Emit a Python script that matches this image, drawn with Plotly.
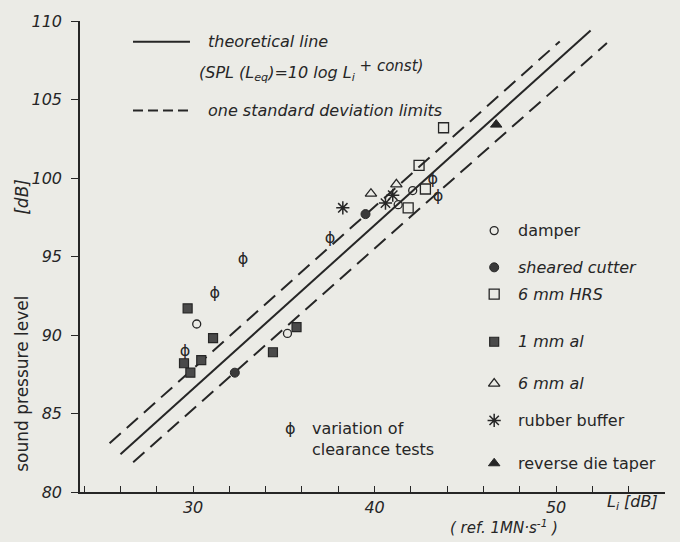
import plotly.graph_objects as go

# ---------------- data ----------------
theory_x = [26.0, 51.9]
theory_y = [82.4, 109.4]
upper_x = [25.4, 50.2]
upper_y = [83.1, 108.7]
lower_x = [26.7, 52.8]
lower_y = [81.9, 108.6]

damper_x = [30.2, 35.2, 42.1, 41.3]
damper_y = [90.7, 90.1, 99.2, 98.3]
sheared_x = [32.3, 39.5]
sheared_y = [87.6, 97.7]
hrs6_x = [42.45, 42.8, 41.85, 43.8]
hrs6_y = [100.8, 99.3, 98.1, 103.2]
al1_x = [29.7, 31.1, 29.5, 30.45, 29.85, 34.4, 35.7]
al1_y = [91.7, 89.8, 88.2, 88.4, 87.6, 88.9, 90.5]
al6_x = [41.2, 39.8]
al6_y = [99.6, 99.0]
rubber_x = [41.0, 40.6, 38.25]
rubber_y = [98.9, 98.4, 98.1]
taper_x = [46.7]
taper_y = [103.4]
clear_x = [31.2, 29.55, 43.2, 43.5, 37.55, 32.75]
clear_y = [92.6, 88.9, 99.9, 98.8, 96.1, 94.8]

x_ticks = [24, 26, 28, 30, 32, 34, 36, 38, 40, 42, 44, 46, 48, 50, 52, 54, 56]
x_labels = {30: "30", 40: "40", 50: "50"}
y_ticks = [80, 85, 90, 95, 100, 105, 110]

legend_labels = ["damper", "<i>sheared cutter</i>", "<i>6 mm HRS</i>", "<i>1 mm al</i>",
                 "<i>6 mm al</i>", "rubber buffer", "reverse die taper"]

# ---------------- styling ----------------
INK = "#262626"
BG = "#ebebe6"
FONT = "DejaVu Sans"

fig = go.Figure()

# lines
fig.add_trace(go.Scatter(x=theory_x, y=theory_y, mode="lines",
                         line=dict(color=INK, width=2), showlegend=False))
for xs, ys in [(upper_x, upper_y), (lower_x, lower_y)]:
    fig.add_trace(go.Scatter(x=xs, y=ys, mode="lines",
                             line=dict(color=INK, width=2, dash="15px,8px"), showlegend=False))

series = [
    (damper_x, damper_y, dict(symbol="circle-open", size=8, color=INK, line=dict(width=1.3, color=INK))),
    (sheared_x, sheared_y, dict(symbol="circle", size=9, color="#3a3a3a", line=dict(width=1, color=INK))),
    (hrs6_x, hrs6_y, dict(symbol="square-open", size=10, color=INK, line=dict(width=1.3, color=INK))),
    (al1_x, al1_y, dict(symbol="square", size=9, color="#4a4a4a", line=dict(width=1.2, color=INK))),
    (al6_x, al6_y, dict(symbol="triangle-up-open", size=10, color=INK, line=dict(width=1.3, color=INK))),
    (rubber_x, rubber_y, dict(symbol="asterisk-open", size=11, color=INK, line=dict(width=1.5, color=INK))),
    (taper_x, taper_y, dict(symbol="triangle-up", size=10, color=INK, line=dict(width=1, color=INK))),
]
for xs, ys, mk in series:
    fig.add_trace(go.Scatter(x=xs, y=ys, mode="markers", marker=mk, showlegend=False))

fig.add_trace(go.Scatter(x=clear_x, y=clear_y, mode="text", text=["ϕ"] * len(clear_x),
                         textfont=dict(family=FONT, size=16, color=INK),
                         showlegend=False))

# ---------------- legend keys (overlay axis in paper-like units) ----------------
L0, L1 = 0.0906, 0.188
fig.add_trace(go.Scatter(x=[L0, L1], y=[0.956, 0.956], mode="lines", xaxis="x2", yaxis="y2",
                         line=dict(color=INK, width=2), showlegend=False))
fig.add_trace(go.Scatter(x=[L0, L1], y=[0.810, 0.810], mode="lines", xaxis="x2", yaxis="y2",
                         line=dict(color=INK, width=2, dash="10px,5px"), showlegend=False))

key_x = 0.708
key_rows = [0.555, 0.477, 0.420, 0.319, 0.230, 0.152, 0.061]
for (xs, ys, mk), ry in zip(series, key_rows):
    fig.add_trace(go.Scatter(x=[key_x], y=[ry], mode="markers", xaxis="x2", yaxis="y2",
                             marker=mk, showlegend=False))

annots = []
for lab, ry in zip(legend_labels, key_rows):
    annots.append(dict(x=0.745, y=ry, xref="paper", yref="paper", text=lab, showarrow=False,
                       xanchor="left", yanchor="middle", font=dict(family=FONT, size=16, color=INK)))

annots += [
    dict(x=0.215, y=0.956, text="<i>theoretical line</i>", xanchor="left"),
    dict(x=0.200, y=0.894,
         text="<i>(SPL (L<sub>eq</sub>)=10 log L<sub>i</sub>"
              "<sup><span style='font-size:15px'> + const)</span></sup></i>",
         xanchor="left"),
    dict(x=0.215, y=0.810, text="<i>one standard deviation limits</i>", xanchor="left"),
    dict(x=0.359, y=0.135, text="ϕ", xanchor="center"),
    dict(x=0.393, y=0.113, text="variation of<br>clearance tests", xanchor="left", align="left"),
    dict(x=0.944, y=-0.022, text="<i>L<sub>i</sub> [dB]</i>", xanchor="center"),
    dict(x=0.725, y=-0.074, text="<i>( ref. 1MN·s<sup>-1</sup> )</i>", xanchor="center",
         font=dict(family=FONT, size=15, color=INK)),
    dict(x=-0.099, y=0.23, text="sound pressure level", textangle=-90, xanchor="center",
         font=dict(family=FONT, size=17, color=INK)),
    dict(x=-0.099, y=0.627, text="<i>[dB]</i>", textangle=-90, xanchor="center",
         font=dict(family=FONT, size=17, color=INK)),
]
for a in annots:
    a.setdefault("xref", "paper")
    a.setdefault("yref", "paper")
    a.setdefault("showarrow", False)
    a.setdefault("yanchor", "middle")
    a.setdefault("font", dict(family=FONT, size=16, color=INK))

fig.update_layout(
    width=680, height=542,
    margin=dict(l=80, r=15, t=18, b=50),
    paper_bgcolor=BG, plot_bgcolor=BG,
    font=dict(family=FONT, size=16, color=INK),
    showlegend=False,
    annotations=annots,
    xaxis=dict(range=[23.77, 56.0], tickmode="array", tickvals=x_ticks,
               ticktext=[x_labels.get(v, "") for v in x_ticks],
               ticks="inside", ticklen=6, tickwidth=1.2, tickcolor=INK,
               showline=True, linecolor=INK, linewidth=1.5, showgrid=False, zeroline=False,
               tickfont=dict(family=FONT, size=16, color=INK, style="italic"),
               ticklabelstandoff=0),
    yaxis=dict(range=[80, 110], tickmode="array", tickvals=y_ticks,
               ticks="outside", ticklen=7, tickwidth=1.2, tickcolor=INK,
               showline=True, linecolor=INK, linewidth=1.5, showgrid=False, zeroline=False,
               tickfont=dict(family=FONT, size=16, color=INK, style="italic"),
               ticklabelstandoff=6),
    xaxis2=dict(range=[0, 1], overlaying="x", visible=False, fixedrange=True),
    yaxis2=dict(range=[0, 1], overlaying="y", visible=False, fixedrange=True),
)

fig.write_html("out.html")
